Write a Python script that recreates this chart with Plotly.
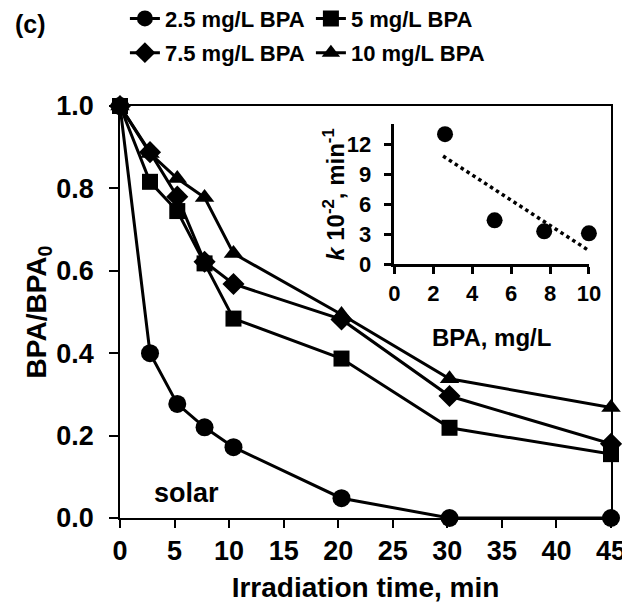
import numpy as np
import plotly.graph_objects as go

# ---- data ----
time_min = [0, 2.75, 5.25, 7.75, 10.4, 20.3, 30.2, 45]
bpa_2_5 = [1.0, 0.40, 0.277, 0.22, 0.172, 0.048, 0.0, 0.0]
bpa_5 = [1.0, 0.816, 0.745, 0.618, 0.484, 0.387, 0.219, 0.155]
bpa_7_5 = [1.0, 0.888, 0.78, 0.622, 0.568, 0.482, 0.296, 0.18]
bpa_10 = [1.0, 0.885, 0.824, 0.778, 0.642, 0.494, 0.338, 0.268]
series_names = ["2.5 mg/L BPA", "5 mg/L BPA", "7.5 mg/L BPA", "10 mg/L BPA"]

inset_conc = [2.6, 5.15, 7.7, 10.0]
inset_k = [13.0, 4.4, 3.3, 3.1]
trend_x = [2.5, 10]

x_ticks = [0, 5, 10, 15, 20, 25, 30, 35, 40, 45]
y_ticks = [0.0, 0.2, 0.4, 0.6, 0.8, 1.0]
inset_x_ticks = [0, 2, 4, 6, 8, 10]
inset_y_ticks = [0, 3, 6, 9, 12]

FONT = "Liberation Sans, Arial, sans-serif"

fig = go.Figure()

styles = [
    ("circle", 18, "legend"),
    ("square", 16, "legend"),
    ("diamond", 17, "legend2"),
    ("triangle-up", 17, "legend2"),
]
for ys, name, (sym, sz, lg) in zip([bpa_2_5, bpa_5, bpa_7_5, bpa_10], series_names, styles):
    fig.add_trace(go.Scatter(
        x=time_min, y=ys, name=name, mode="lines+markers",
        line=dict(color="black", width=3),
        marker=dict(symbol=sym, size=sz, color="black"),
        cliponaxis=False, legend=lg,
    ))

# inset
fig.add_trace(go.Scatter(
    x=inset_conc, y=inset_k, mode="markers", showlegend=False,
    marker=dict(symbol="circle", size=16, color="black"),
    xaxis="x2", yaxis="y2", cliponaxis=False,
))
slope, intercept = np.polyfit(inset_conc, inset_k, 1)
fig.add_trace(go.Scatter(
    x=trend_x, y=[slope * v + intercept for v in trend_x], mode="lines", showlegend=False,
    line=dict(color="black", width=3.5, dash="dot"),
    xaxis="x2", yaxis="y2", cliponaxis=False,
))

axis_common = dict(showgrid=False, zeroline=False, linecolor="black", automargin=False,
                   ticks="outside", tickcolor="black", color="black")

inset_y_domain = [0.6156, 0.956]

fig.update_layout(
    template="none",
    width=630, height=607,
    margin=dict(l=112, r=27, t=98, b=97, autoexpand=False),
    plot_bgcolor="white", paper_bgcolor="white",
    font=dict(family=FONT, size=22, color="black", weight="bold"),
    xaxis=dict(range=[0, 45], tickvals=x_ticks, linewidth=1.5, mirror=True, ticklen=8,
               tickwidth=1.5, tickfont=dict(size=27), ticklabelstandoff=0,
               title=dict(text="Irradiation time, min", font=dict(size=28), standoff=12),
               **axis_common),
    yaxis=dict(range=[0, 1], tickvals=y_ticks, tickformat=".1f", linewidth=1.5, mirror=True,
               ticklen=9, tickwidth=1.5, tickfont=dict(size=27), ticklabelstandoff=10,
               title=dict(text="BPA/BPA<sub>0</sub>", font=dict(size=28), standoff=0),
               **axis_common),
    xaxis2=dict(domain=[0.559, 0.955], anchor="y2", range=[0, 10], tickvals=inset_x_ticks,
                linewidth=2.5, ticklen=7, tickwidth=2.5, tickfont=dict(size=22),
                ticklabelstandoff=0,
                title=dict(text="BPA, mg/L", font=dict(size=24), standoff=25),
                **axis_common),
    yaxis2=dict(domain=inset_y_domain, anchor="x2", range=[0, 14], tickvals=inset_y_ticks,
                linewidth=2.5, ticklen=8, tickwidth=2.5, tickfont=dict(size=22),
                ticklabelstandoff=8,
                **axis_common),
    legend=dict(orientation="h", x=0.01, y=1.212, xanchor="left", yanchor="middle",
                entrywidth=141, font=dict(size=22), bgcolor="rgba(0,0,0,0)"),
    legend2=dict(orientation="h", x=0.01, y=1.129, xanchor="left", yanchor="middle",
                 entrywidth=141, font=dict(size=22), bgcolor="rgba(0,0,0,0)"),
    annotations=[
        dict(text="(c)", xref="paper", yref="paper", x=-0.218, y=1.2, xanchor="left",
             yanchor="middle", showarrow=False, font=dict(size=25)),
        dict(text="solar", xref="x", yref="y", x=6.1, y=0.06, showarrow=False,
             font=dict(size=27)),
        dict(text="<i>k</i> 10<sup>-2</sup>, min<sup>-1</sup>", xref="paper", yref="paper",
             x=0.437, y=sum(inset_y_domain) / 2, xanchor="center", yanchor="middle",
             textangle=-90, showarrow=False, font=dict(size=24)),
    ],
)

fig.write_html("out.html")
